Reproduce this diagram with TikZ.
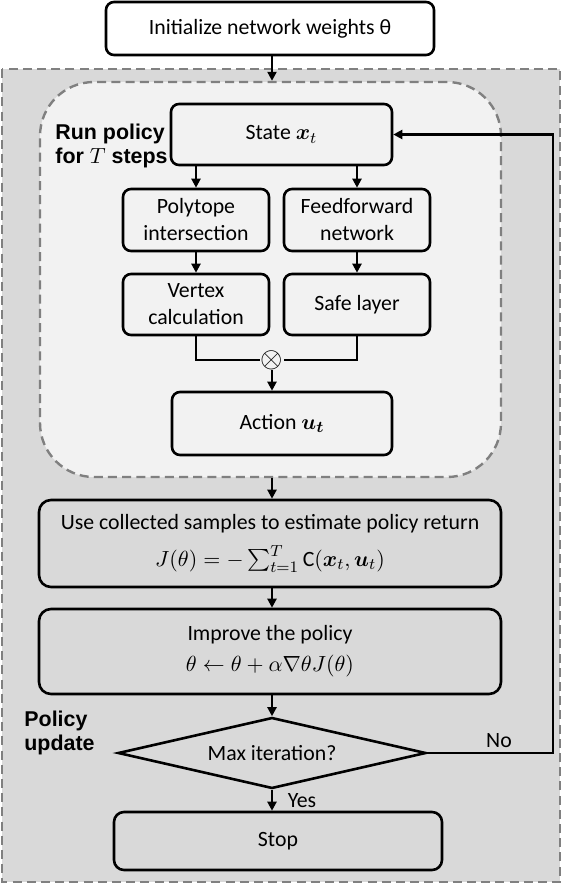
\documentclass[tikz,border=0pt]{standalone}
\usepackage{amsmath}
\usepackage{amssymb}
\usepackage{bm}
\usepackage{fontspec}
\setmainfont{Carlito}
\newfontfamily\lblfont{Liberation Sans}
\usetikzlibrary{arrows.meta,shapes.geometric}
\definecolor{outergray}{HTML}{D9D9D9}
\definecolor{innergray}{HTML}{F2F2F2}
\definecolor{dashgray}{HTML}{808080}

\begin{document}
\begin{tikzpicture}[x=0.5pt,y=-0.5pt,
		font=\fontsize{10.9}{13.5}\selectfont,
		box/.style={draw,line width=1.3pt,rounded corners=4pt,align=center,inner sep=0pt},
		conn/.style={line width=1.1pt,-{Triangle[length=4.5pt,width=4.5pt]}},
		dashline/.style={draw=dashgray,line width=1.2pt,dash pattern=on 4.5pt off 2.6pt},
		lbl/.style={font=\lblfont\bfseries\fontsize{10.7}{12}\selectfont,align=left,inner sep=0pt}]
			\useasboundingbox (0,0) rectangle (562,884);
			\fill[outergray] (2,69) rectangle (560,882);
			\draw[dashline] (2,69) rectangle (560,882);
			\node[dashline,fill=innergray,rounded corners=27pt,minimum width=230.5pt,minimum height=197.5pt] (run) at (270.5,279.5) {};
			\node[box,fill=white,minimum width=164pt,minimum height=26.5pt] (init) at (270,28.5) {Initialize network weights θ};
			\node[box,minimum width=110.5pt,minimum height=30.5pt] (state) at (281.5,134.5) {State $\bm{x}_t$};
			\node[box,minimum width=73pt,minimum height=31pt] (poly) at (196,220) {Polytope\\intersection};
			\node[box,minimum width=73pt,minimum height=31pt] (ffn) at (357,220) {Feedforward\\network};
			\node[box,minimum width=73pt,minimum height=30.5pt] (vertex) at (196,304.5) {Vertex\\calculation};
			\node[box,minimum width=73pt,minimum height=30.5pt] (safe) at (357,304.5) {Safe layer};
			\node[inner sep=0pt,font=\fontsize{14}{14}\selectfont] (mul) at (272,360) {$\otimes$};
			\node[box,minimum width=110pt,minimum height=31.5pt] (action) at (282,423.5) {Action $\bm{u_t}$};
			\node[box,rounded corners=6pt,minimum width=231pt,minimum height=43.5pt] (ret) at (270,543.5) {Use collected samples to estimate policy return\\[5pt] $J(\theta)=-\sum_{t=1}^{T}\mathrm{C}(\bm{x}_t,\bm{u}_t)$};
			\node[box,rounded corners=6pt,minimum width=231pt,minimum height=42.5pt] (improve) at (270,651.5) {Improve the policy\\[2pt] $\theta\leftarrow\theta+\alpha\nabla\theta J(\theta)$};
			\node[draw,diamond,line width=1.3pt,aspect=4.3,minimum width=154pt,minimum height=35.5pt,inner sep=0pt] (dec) at (272,753) {Max iteration?};
			\node[box,rounded corners=5pt,minimum width=164pt,minimum height=29pt] (stop) at (278,841) {Stop};
			\node[lbl,anchor=north west] (runlbl) at (55,124) {Run policy\\for $T$ steps};
			\node[lbl,anchor=north west] (updlbl) at (24,711) {Policy\\update};
			\coordinate (rail) at (553,136);
			\draw[conn] (init.south -| mul) -- (run.north -| mul);
			\draw[conn] (state.south -| poly) -- (poly.north);
			\draw[conn] (state.south -| ffn) -- (ffn.north);
			\draw[conn] (poly) -- (vertex);
			\draw[conn] (ffn) -- (safe);
			\draw[line width=1.1pt] (vertex.south) |- (mul.west);
			\draw[line width=1.1pt] (safe.south) |- (mul.east);
			\draw[conn] (mul.south) -- (mul.south |- action.north);
			\draw[conn] (run.south -| mul) -- (ret.north -| mul);
			\draw[conn] (ret.south -| mul) -- (improve.north -| mul);
			\draw[conn] (improve.south -| dec) -- (dec.north);
			\draw[conn] (dec.south) -- node[right=4pt] {Yes} (stop.north -| dec);
			\draw[conn] (dec.east) -- node[pos=.57,above,inner sep=2pt] {No} (dec.east -| rail) |- (state.east);
	\end{tikzpicture}
\end{document}
